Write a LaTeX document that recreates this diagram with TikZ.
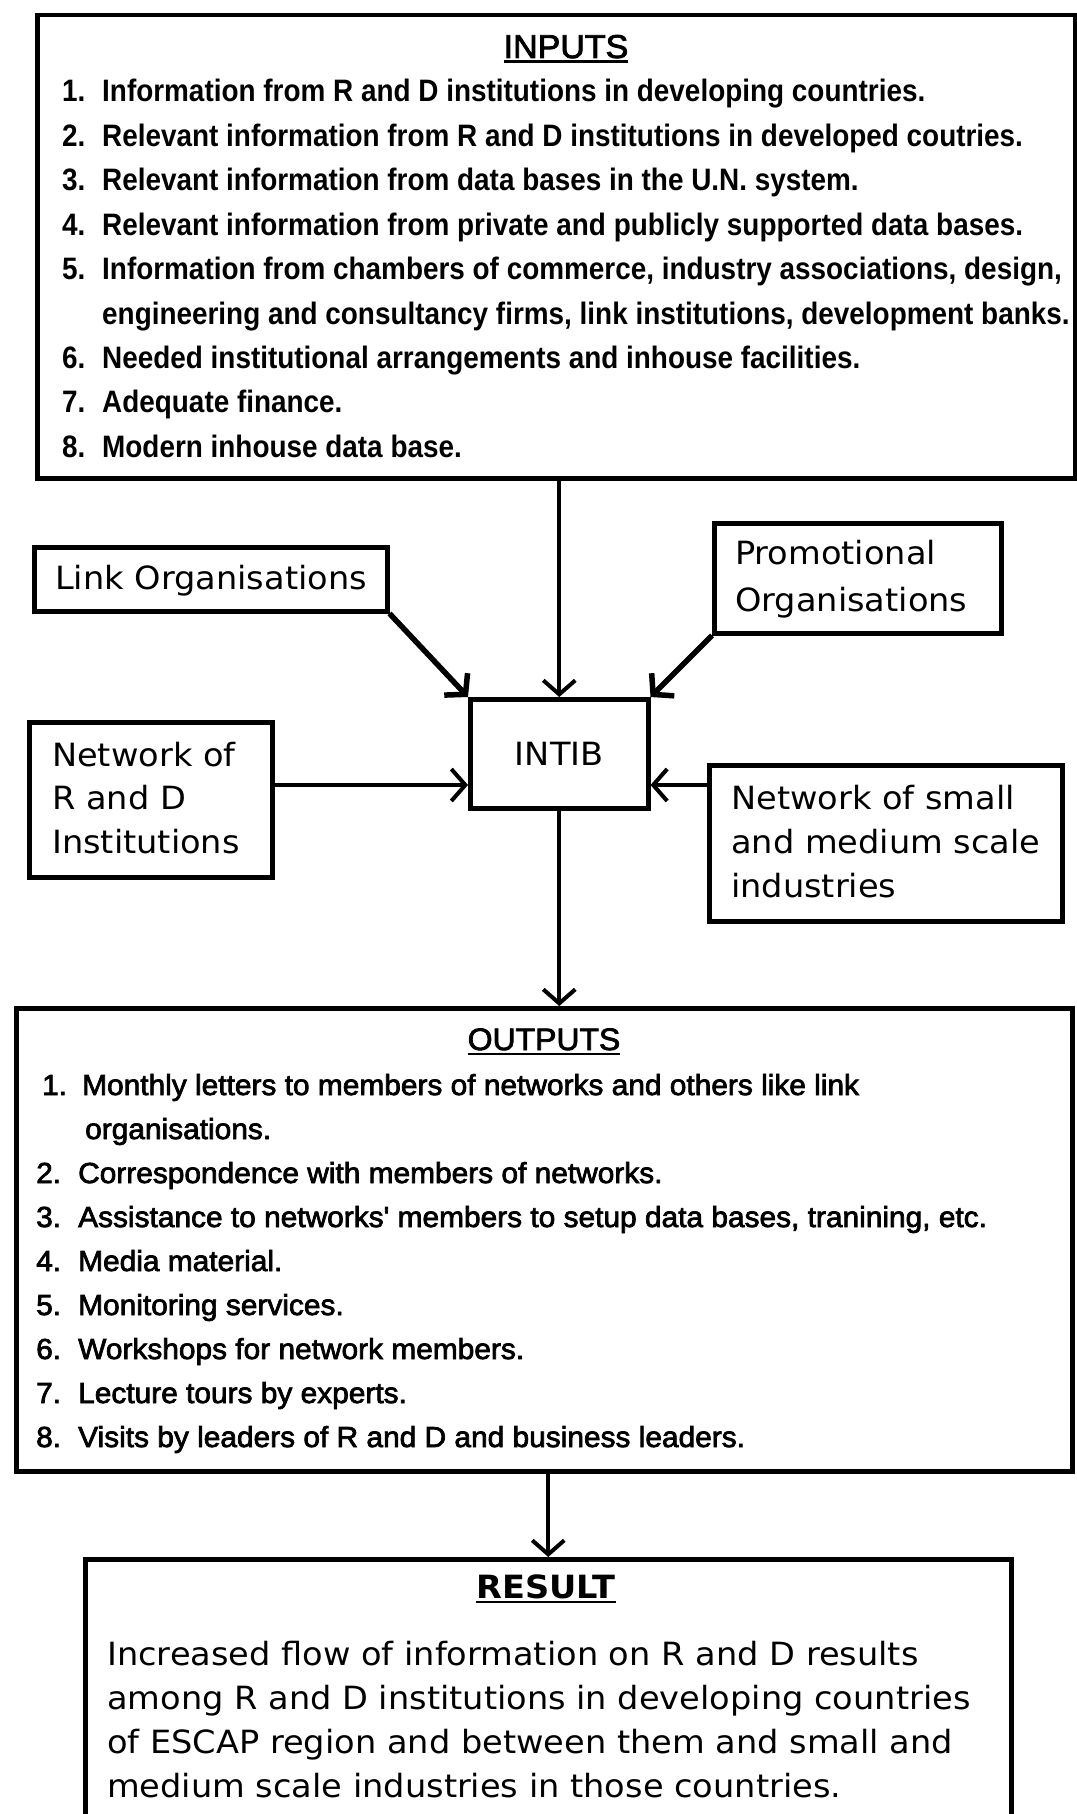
\documentclass[tikz,border=0pt]{standalone}
\usepackage{fontspec}
\usetikzlibrary{arrows.meta}
\newfontfamily\infont[FakeStretch=0.9]{Liberation Sans}
\newfontfamily\outfont[FakeBold=2.5,FakeStretch=1.03]{Liberation Sans}
\newfontfamily\boxfont[FakeStretch=1.05]{DejaVu Sans}
\newcommand\ulin[1]{\setbox0\hbox{#1}\rlap{\rule[-5pt]{\wd0}{2.5pt}}\box0}
\tikzset{
  box/.style={draw, line width=4.5pt, inner sep=0pt, anchor=north west},
  arr/.style={line width=4pt, -{Straight Barb[length=14pt,width=32pt]}},
  diag/.style={arr, line width=5.5pt},
  txt/.style={anchor=base west, inner sep=0pt},
  infnt/.style={font=\infont\bfseries\fontsize{31}{37}\selectfont},
  outfnt/.style={font=\outfont\fontsize{29}{35}\selectfont},
  boxfnt/.style={font=\boxfont\fontsize{32}{38}\selectfont}
}
\begin{document}
\begin{tikzpicture}[x=1pt,y=-1pt]
  \useasboundingbox (0,0) rectangle (1076,1814);
  % boxes, top left corner and size in pixels
  \node[box, minimum width=1038pt, minimum height=463pt] (inputs) at (35,13) {};
  \node[box, minimum width=353pt, minimum height=64pt] (link) at (32,545) {};
  \node[box, minimum width=287pt, minimum height=110pt] (promo) at (712,521) {};
  \node[box, boxfnt, minimum width=178pt, minimum height=109pt] (intib) at (468,697) {INTIB};
  \node[box, minimum width=243pt, minimum height=155pt] (rd) at (27,720) {};
  \node[box, minimum width=353pt, minimum height=156pt] (small) at (707,763) {};
  \node[box, minimum width=1056pt, minimum height=463pt] (outputs) at (14,1006) {};
  \node[box, minimum width=926pt, minimum height=300pt] (result) at (83,1557) {};

  \node[anchor=base, inner sep=0pt, font=\outfont\fontsize{33}{38}\selectfont] (intitle) at (566,58) {\ulin{INPUTS}};
  \foreach \num/\txt [count=\k from 0] in {
      1./{Information from R and D institutions in developing countries.},
      2./{Relevant information from R and D institutions in developed coutries.},
      3./{Relevant information from data bases in the U.N. system.},
      4./{Relevant information from private and publicly supported data bases.},
      5./{Information from chambers of commerce, industry associations, design,},
      {}/{engineering and consultancy firms, link institutions, development banks.},
      6./{Needed institutional arrangements and inhouse facilities.},
      7./{Adequate finance.},
      8./{Modern inhouse data base.}}
  {
    \node[txt, infnt] (innum\k) at (62,102+44.4*\k) {\num};
    \node[txt, infnt] (intxt\k) at (102,102+44.4*\k) {\txt};
  }

  \node[txt, boxfnt] (linktxt) at (55,589) {Link Organisations};
  \node[txt, boxfnt] (promotxt1) at (735,564) {Promotional};
  \node[txt, boxfnt] (promotxt2) at (735,611) {Organisations};
  \node[txt, boxfnt] (rdtxt1) at (52,766) {Network of};
  \node[txt, boxfnt] (rdtxt2) at (52,809) {R and D};
  \node[txt, boxfnt] (rdtxt3) at (52,853) {Institutions};
  \node[txt, boxfnt] (smalltxt1) at (731,809) {Network of small};
  \node[txt, boxfnt] (smalltxt2) at (731,853) {and medium scale};
  \node[txt, boxfnt] (smalltxt3) at (731,897) {industries};

  \node[anchor=base, inner sep=0pt, font=\outfont\fontsize{31}{36}\selectfont] (outtitle) at (544,1050) {\ulin{OUTPUTS}};
  \foreach \nx/\tx/\num/\txt [count=\k from 0] in {
      42/82/1./{Monthly letters to members of networks and others like link},
      42/85/{}/{organisations.},
      36/78/2./{Correspondence with members of networks.},
      36/78/3./{Assistance to networks' members to setup data bases, tranining, etc.},
      36/78/4./{Media material.},
      36/78/5./{Monitoring services.},
      36/78/6./{Workshops for network members.},
      36/78/7./{Lecture tours by experts.},
      36/78/8./{Visits by leaders of R and D and business leaders.}}
  {
    \node[txt, outfnt] (outnum\k) at (\nx,1095+44*\k) {\num};
    \node[txt, outfnt] (outtxt\k) at (\tx,1095+44*\k) {\txt};
  }

  \node[anchor=base, inner sep=0pt, font=\boxfont\bfseries\fontsize{32}{38}\selectfont] (restitle) at (546,1598) {\ulin{RESULT}};
  \foreach \txt [count=\k from 0] in {
      Increased flow of information on R and D results,
      among R and D institutions in developing countries,
      of ESCAP region and between them and small and,
      medium scale industries in those countries.}
  {
    \node[txt, boxfnt] (restxt\k) at (107,1665+44.3*\k) {\txt};
  }

  % connectors
  \coordinate (rdin) at (intib.west |- 0,785);
  \coordinate (smallin) at (intib.east |- 0,785);
  \draw[arr] (intib.north |- inputs.south) -- (intib.north);
  \draw[diag] (link.south east) -- (intib.north west);
  \draw[diag] (promo.south west) -- (intib.north east);
  \draw[arr] (rd.east |- rdin) -- (rdin);
  \draw[arr] (small.west |- smallin) -- (smallin);
  \draw[arr] (intib.south) -- (intib.south |- outputs.north);
  \draw[arr] (result.north |- outputs.south) -- (result.north);
\end{tikzpicture}
\end{document}
